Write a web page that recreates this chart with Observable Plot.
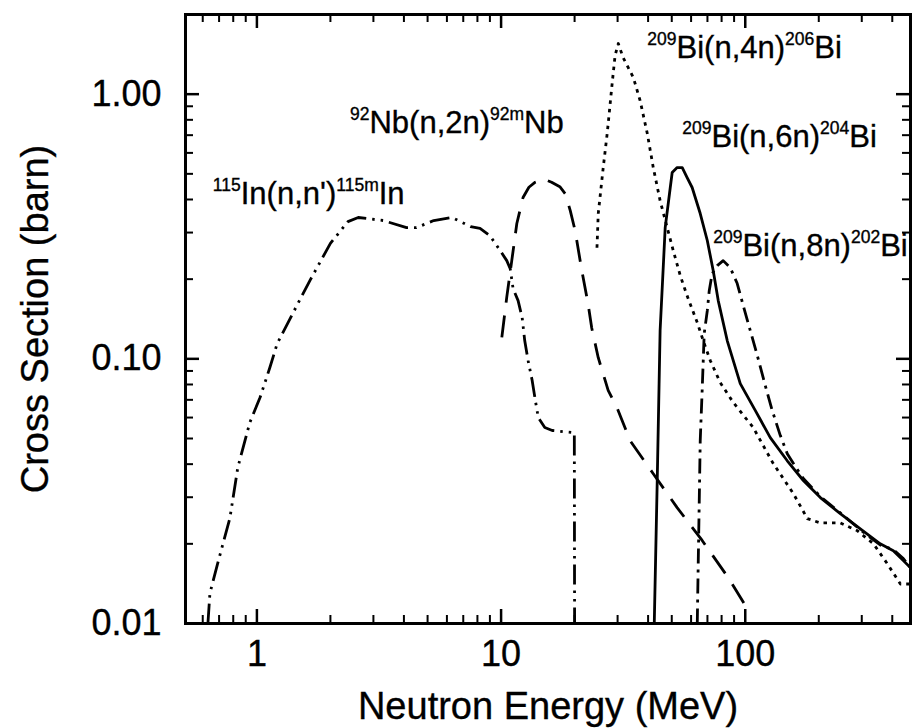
<!DOCTYPE html>
<html>
<head>
<meta charset="utf-8">
<script src="https://cdn.jsdelivr.net/npm/d3@7"></script>
<script src="https://cdn.jsdelivr.net/npm/@observablehq/plot@0.6"></script>
<style>
  html, body { margin: 0; padding: 0; background: #fff; }
  #chart svg { display: block; }
  #chart svg text { stroke: black; stroke-width: 0.35px; }
</style>
</head>
<body>
<div id="chart"></div>
<script>
// ---- Data ----
// 115In(n,n')115mIn  (dash-dot-dot)
const inE = [0.63, 0.642, 0.69, 0.775, 0.835, 0.935, 1.03, 1.13, 1.21, 1.40, 1.65, 2.0, 2.36, 2.6, 3.3, 4.1, 4.5, 5.3, 6.3, 7.5, 8.2, 9.0, 9.9, 10.55, 10.9, 11.2, 11.74, 12.2, 12.5, 12.9, 13.4, 13.8, 14.2, 15.1, 16.2, 19.95, 20.0];
const inS = [0.010, 0.013, 0.0168, 0.025, 0.0388, 0.0574, 0.0714, 0.0927, 0.114, 0.148, 0.198, 0.273, 0.330, 0.342, 0.333, 0.313, 0.313, 0.333, 0.342, 0.316, 0.311, 0.292, 0.257, 0.235, 0.219, 0.184, 0.166, 0.143, 0.117, 0.0985, 0.083, 0.070, 0.060, 0.055, 0.0536, 0.0526, 0.010];

// 92Nb(n,2n)92mNb  (dashed)
const nbE = [10.07, 10.55, 11.06, 11.6, 12.3, 13.0, 13.8, 14.9, 16.1, 17.4, 18.3, 19.2, 20.1, 21.4, 22.7, 23.5, 25.0, 27.45, 29.9, 33.8, 42.0, 52.6, 66.6, 85.2, 103];
const nbS = [0.1206, 0.171, 0.235, 0.3245, 0.407, 0.445, 0.465, 0.478, 0.465, 0.447, 0.421, 0.363, 0.305, 0.216, 0.162, 0.131, 0.101, 0.076, 0.065, 0.049, 0.0368, 0.0274, 0.0206, 0.0149, 0.0112];

// 209Bi(n,4n)206Bi  (dotted)
const bi4E = [24.7, 25.0, 26.2, 27.2, 28.5, 29.3, 30.2, 31.6, 34.8, 37.1, 39.7, 42.0, 44.8, 47.9, 50.7, 54.2, 57.8, 63.6, 67.3, 71.9, 79.0, 89.3, 107.8, 130.2, 157.3, 179.6, 203, 245, 288, 335, 382, 432, 474];
const bi4S = [0.263, 0.354, 0.528, 0.710, 1.097, 1.40, 1.554, 1.375, 1.156, 0.946, 0.710, 0.528, 0.396, 0.313, 0.2565, 0.206, 0.173, 0.137, 0.117, 0.0985, 0.0813, 0.0684, 0.055, 0.0402, 0.031, 0.0249, 0.0240, 0.0240, 0.0224, 0.0200, 0.0168, 0.0141, 0.0141];

// 209Bi(n,6n)204Bi  (solid)
const bi6E = [42.4, 43.6, 44.8, 47.0, 49.3, 50.2, 52.6, 55.2, 57.8, 60.6, 65.4, 69.9, 73.9, 77.5, 84.4, 95.4, 110, 126.6, 148.6, 172.9, 203, 245, 296, 357, 404, 444, 474];
const bi6S = [0.010, 0.0347, 0.128, 0.313, 0.444, 0.506, 0.528, 0.528, 0.484, 0.444, 0.354, 0.280, 0.2156, 0.166, 0.117, 0.0806, 0.0637, 0.0504, 0.0412, 0.0347, 0.0299, 0.0260, 0.0228, 0.0200, 0.01885, 0.01728, 0.01626];

// 209Bi(n,8n)202Bi  (dash-dot)
const bi8E = [63.6, 64.2, 64.8, 65.4, 66.6, 67.9, 69.9, 71.2, 73.2, 76.8, 81.2, 86.8, 92.7, 98.1, 104.8, 112, 120.8, 129, 139.2, 148.6, 160.3, 172.9, 203, 245, 296, 357, 404, 444, 474];
const bi8S = [0.010, 0.0173, 0.0291, 0.0491, 0.0759, 0.1246, 0.152, 0.181, 0.210, 0.225, 0.235, 0.221, 0.1925, 0.159, 0.128, 0.103, 0.0792, 0.0637, 0.0513, 0.0438, 0.0392, 0.0353, 0.0302, 0.0262, 0.0226, 0.0198, 0.0190, 0.0176, 0.0163];

// Curve labels (^{...} marks a superscript) and their anchor positions in data units
const labelText = ["^{115}In(n,n')^{115m}In", "^{92}Nb(n,2n)^{92m}Nb", "^{209}Bi(n,4n)^{206}Bi", "^{209}Bi(n,6n)^{204}Bi", "^{209}Bi(n,8n)^{202}Bi"];
const labelE = [0.660, 2.405, 39.7, 55.2, 73.9];
const labelS = [0.386, 0.716, 1.364, 0.629, 0.2456];

// Axis ticks
const xMajor = [1, 10, 100];
const xMinor = [0.6, 0.7, 0.8, 0.9, 2, 3, 4, 5, 6, 7, 8, 9, 20, 30, 40, 50, 60, 70, 80, 90, 200, 300, 400];
const yMajor = [0.01, 0.1, 1];
const yMinor = [0.02, 0.03, 0.04, 0.05, 0.06, 0.07, 0.08, 0.09, 0.2, 0.3, 0.4, 0.5, 0.6, 0.7, 0.8, 0.9];
const xTitle = "Neutron Energy (MeV)";
const yTitle = "Cross Section (barn)";

// ---- Build tables ----
const zip = (E, S) => E.map((e, i) => ({E: e, s: S[i]}));
const series = [
  {data: zip(inE, inS), dash: "20,6,2.5,6,2.5,6"},
  {data: zip(nbE, nbS), dash: "22,13"},
  {data: zip(bi4E, bi4S), dash: "3.5,5"},
  {data: zip(bi6E, bi6S), dash: null},
  {data: zip(bi8E, bi8S), dash: "15,6,3,6"}
];
const plain = t => t.replace(/\^\{([^}]*)\}/g, "$1");
const labels = labelText.map((t, i) => ({raw: t, text: plain(t), E: labelE[i], s: labelS[i]}));

// ---- Layout ----
const W = 914, H = 728;
const mL = 185, mR = 4, mT = 14, mB = 105;
const plotW = W - mL - mR, plotH = H - mT - mB;
const majorLen = 14, minorLen = 8;

const marks = [];
for (const s of series) {
  marks.push(Plot.line(s.data, {x: "E", y: "s", stroke: "black", strokeWidth: 2.8, strokeDasharray: s.dash, strokeLinecap: "butt", strokeLinejoin: "round", clip: true}));
}
marks.push(
  Plot.tickX(xMajor, {x: d => d, insetTop: plotH - majorLen, stroke: "black", strokeWidth: 2.5}),
  Plot.tickX(xMajor, {x: d => d, insetBottom: plotH - majorLen, stroke: "black", strokeWidth: 2.5}),
  Plot.tickX(xMinor, {x: d => d, insetTop: plotH - minorLen, stroke: "black", strokeWidth: 2}),
  Plot.tickX(xMinor, {x: d => d, insetBottom: plotH - minorLen, stroke: "black", strokeWidth: 2}),
  Plot.tickY(yMajor, {y: d => d, insetRight: plotW - majorLen, stroke: "black", strokeWidth: 2.5}),
  Plot.tickY(yMajor, {y: d => d, insetLeft: plotW - majorLen, stroke: "black", strokeWidth: 2.5}),
  Plot.tickY(yMinor, {y: d => d, insetRight: plotW - minorLen, stroke: "black", strokeWidth: 2}),
  Plot.tickY(yMinor, {y: d => d, insetLeft: plotW - minorLen, stroke: "black", strokeWidth: 2}),
  Plot.frame({stroke: "black", strokeWidth: 3}),
  Plot.axisX(xMajor, {anchor: "bottom", tickSize: 0, tickPadding: 17, fontSize: 36, tickFormat: d => String(d), label: null}),
  Plot.axisY(yMajor, {anchor: "left", tickSize: 0, tickPadding: 24, fontSize: 36, tickFormat: d3.format(".2f"), label: null}),
  Plot.text([xTitle], {frameAnchor: "bottom", dy: 95, lineAnchor: "bottom", textAnchor: "middle", fontSize: 38, fill: "black"}),
  Plot.text([yTitle], {frameAnchor: "left", dx: -150, rotate: -90, textAnchor: "middle", lineAnchor: "middle", fontSize: 38, fill: "black"}),
  Plot.text(labels, {x: "E", y: "s", text: "text", textAnchor: "start", lineAnchor: "bottom", fontSize: 31, fill: "black"})
);

const chart = Plot.plot({
  width: W, height: H,
  marginLeft: mL, marginRight: mR, marginTop: mT, marginBottom: mB,
  x: {type: "log", domain: [0.51, 475]},
  y: {type: "log", domain: [0.01, 2.0]},
  style: {fontFamily: "'Liberation Sans', Arial, Helvetica, sans-serif", background: "white", color: "black", overflow: "visible"},
  marks
});
document.getElementById("chart").appendChild(chart);

// ---- Superscripts: rebuild label texts as tspans (still real text) ----
const supSize = 17.5, supRaise = 13;
d3.select(chart).selectAll("text").each(function () {
  const lab = labels.find(l => l.text === this.textContent);
  if (!lab) return;
  const sel = d3.select(this);
  sel.text(null);
  const re = /\^\{([^}]*)\}|([^^]+)/g;
  let m, raised = false;
  while ((m = re.exec(lab.raw)) !== null) {
    if (m[1] !== undefined) {
      sel.append("tspan").attr("font-size", supSize).attr("dy", raised ? 0 : -supRaise).text(m[1]);
      raised = true;
    } else {
      sel.append("tspan").attr("dy", raised ? supRaise : 0).text(m[2]);
      raised = false;
    }
  }
});
</script>
</body>
</html>
